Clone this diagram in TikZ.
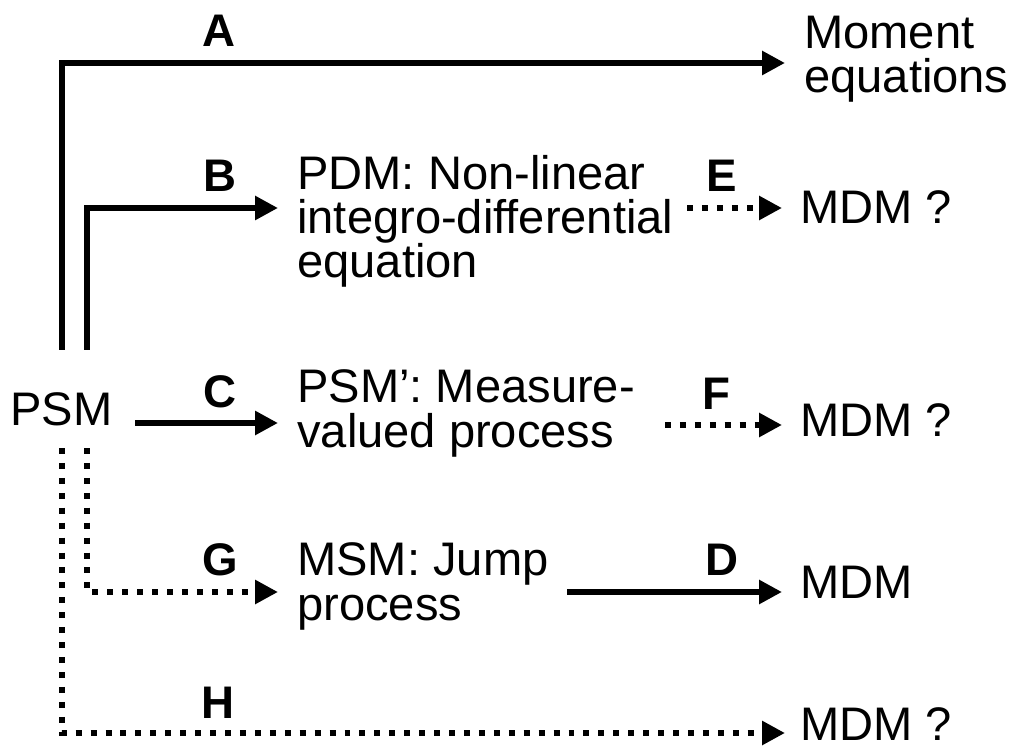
\documentclass[tikz,border=0pt]{standalone}
\usepackage{fontspec}
\setmainfont{Liberation Sans}
\usetikzlibrary{arrows.meta}
\tikzset{
  txt/.style={anchor=base west, inner sep=0pt, align=left, font=\fontsize{26.8}{25.2}\selectfont},
  lab/.style={anchor=base, inner sep=0pt, font=\fontsize{26}{25.2}\selectfont\bfseries},
  link/.style={line width=3.4pt},
  dotlink/.style={link, dash pattern=on 3.4pt off 5.1pt},
  arr/.style={link, -{Triangle[length=13pt,width=13pt]}},
  dotarr/.style={dotlink, -{Triangle[length=13pt,width=13pt]}}
}
\begin{document}
\begin{tikzpicture}[x=0.02cm, y=-0.02cm]
    \useasboundingbox (0,0) rectangle (1013,749);
    % texts (base = last line)
    \node[txt] (psm) at (10,425) {PSM};
    \node[txt] (moment) at (804,93) {Moment\\equations};
    \node[txt] (pdm) at (297,278) {PDM: Non-linear\\integro-differential\\equation};
    \node[txt] (psmp) at (297,447) {PSM’: Measure-\\valued process};
    \node[txt] (msm) at (297,620) {MSM: Jump\\process};
    \node[txt] (mdmE) at (800,224) {MDM ?};
    \node[txt] (mdmF) at (800,436) {MDM ?};
    \node[txt] (mdmD) at (800,598) {MDM};
    \node[txt] (mdmH) at (800,740) {MDM ?};
    % arrow ends
    \coordinate (aS) at (62,350);  \coordinate (aE) at (785,63);
    \coordinate (bS) at (87,350);  \coordinate (bE) at (278,208);
    \coordinate (cS) at (135,423); \coordinate (cE) at (278,423);
    \coordinate (gS) at (87,448);  \coordinate (gE) at (278,592);
    \coordinate (hS) at (62,448);  \coordinate (hE) at (785,733);
    \coordinate (eS) at (687,208); \coordinate (eE) at (782,208);
    \coordinate (fS) at (665,425); \coordinate (fE) at (782,425);
    \coordinate (dS) at (567,592); \coordinate (dE) at (782,592);
    % connectors
    \draw[arr] (aS) |- (aE);
    \draw[arr] (bS) |- (bE);
    \draw[arr] (cS) -- (cE);
    \draw[dotarr] (gS) |- (gE);
    \draw[dotarr] (hS) |- (hE);
    \draw[dotarr] (eS) -- (eE);
    \draw[dotarr] (fS) -- (fE);
    \draw[arr] (dS) -- (dE);
    % labels
    \node[lab] (labA) at (219,47) {A};
    \node[lab] (labB) at (220,192) {B};
    \node[lab] (labC) at (220,407) {C};
    \node[lab] (labE) at (722,192) {E};
    \node[lab] (labF) at (716,409) {F};
    \node[lab] (labG) at (220,575) {G};
    \node[lab] (labD) at (722,575) {D};
    \node[lab] (labH) at (218,718) {H};
\end{tikzpicture}
\end{document}
